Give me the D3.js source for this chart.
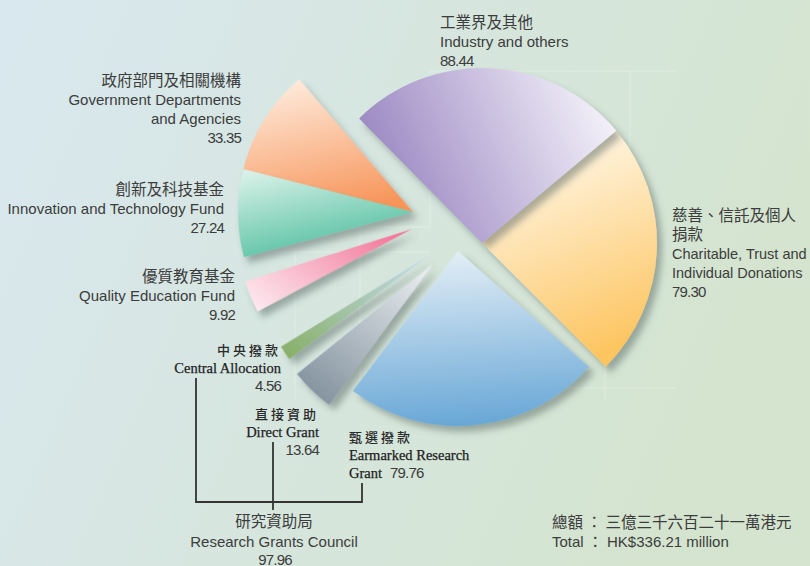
<!DOCTYPE html>
<html><head><meta charset="utf-8">
<script src="https://cdn.jsdelivr.net/npm/d3@7"></script>
<style>body{margin:0;background:#d8e6e4}svg{display:block}</style>
</head><body>
<svg id="chart" width="810" height="566"></svg>
<script>
// ---------- data ----------
const categoriesZh = [["工業界及其他"], ["慈善、信託及個人", "捐款"], ["甄選撥款"], ["直接資助"], ["中央撥款"], ["優質教育基金"], ["創新及科技基金"], ["政府部門及相關機構"]];
const categoriesEn = [["Industry and others"], ["Charitable, Trust and", "Individual Donations"], ["Earmarked Research", "Grant"], ["Direct Grant"], ["Central Allocation"], ["Quality Education Fund"], ["Innovation and Technology Fund"], ["Government Departments", "and Agencies"]];
const values = [88.44, 79.30, 79.76, 13.64, 4.56, 9.92, 27.24, 33.35];
const valueLabels = ["88.44", "79.30", "79.76", "13.64", "4.56", "9.92", "27.24", "33.35"];
const groupZh = "研究資助局", groupEn = "Research Grants Council", groupValue = "97.96";
const totalZh = "總額 ： 三億三千六百二十一萬港元";
const totalEn = "Total ： HK$336.21 million";

// ---------- layout / style ----------
const W = 810, H = 566;
const center = [482, 243], R = 175;
const sliceShift = [[0,0],[0,0],[-24,8],[-49,21],[-52,12],[-70,-14],[-69,-31],[-69,-31]];
const sliceRotate = [0,0,-3.5,-4,-1.5,2,4.5,4];
const grads = [
  {x1:0,y1:0.55,x2:1,y2:0.25, c:["#9682bf","#f6f4fb"]},
  {x1:0.2,y1:0,x2:0.5,y2:1, c:["#fffcf4","#fdc561"]},
  {x1:0.5,y1:0,x2:0.5,y2:1, c:["#e3eef6","#68a7d6"]},
  {x1:1,y1:0,x2:0,y2:1, c:["#eef1f4","#7a8a97"]},
  {x1:1,y1:0,x2:0,y2:1, c:["#c4dcf0","#86ae64"]},
  {x1:1,y1:0.2,x2:0,y2:0.9, c:["#f2779a","#fdeaf0"]},
  {x1:0.1,y1:0,x2:0.7,y2:1, c:["#d8f1e8","#3cb793"]},
  {x1:0.3,y1:0,x2:0.7,y2:1, c:["#feeadb","#f7955a"]}
];
const sans = "'Liberation Sans', Arial, 'Noto Sans CJK TC', sans-serif";
const serif = "'Liberation Serif', 'Times New Roman', 'Noto Sans CJK TC', serif";
const cjk = "'Noto Sans CJK TC', 'Noto Sans CJK SC', sans-serif";
const textColor = "#3c3c3c";

const svg = d3.select("#chart");
const defs = svg.append("defs");

// background
const bg = defs.append("linearGradient").attr("id","bg").attr("x1",0).attr("y1",0).attr("x2",1).attr("y2",0.3);
bg.append("stop").attr("offset",0).attr("stop-color","#d9e8ef");
bg.append("stop").attr("offset",1).attr("stop-color","#d4e4cf");
svg.append("rect").attr("width",W).attr("height",H).attr("fill","url(#bg)");

// faint decorative lines
const deco = [[430,71,677,71],[430,71,430,227],[630,71,630,250],[240,227,430,227],[283,252,430,252],[295,252,295,400],[360,227,360,400],[605,252,605,400],[560,388,677,388],[240,350,283,350]];
svg.append("g").selectAll("line").data(deco).join("line")
  .attr("x1",d=>d[0]).attr("y1",d=>d[1]).attr("x2",d=>d[2]).attr("y2",d=>d[3])
  .attr("stroke","#ffffff").attr("stroke-opacity",0.3).attr("stroke-width",1);

// shadow
const f = defs.append("filter").attr("id","sh").attr("x","-30%").attr("y","-30%").attr("width","160%").attr("height","160%");
f.append("feDropShadow").attr("dx",5).attr("dy",6).attr("stdDeviation",3.5)
  .attr("flood-color","#4a5a58").attr("flood-opacity",0.45);

grads.forEach((g,i)=>{
  const lg = defs.append("linearGradient").attr("id","g"+i)
    .attr("x1",g.x1).attr("y1",g.y1).attr("x2",g.x2).attr("y2",g.y2);
  lg.append("stop").attr("offset",0).attr("stop-color",g.c[0]);
  lg.append("stop").attr("offset",1).attr("stop-color",g.c[1]);
});

const start = -44.6*Math.PI/180;
const pie = d3.pie().sort(null).startAngle(start).endAngle(start+2*Math.PI);
const arc = d3.arc().innerRadius(0).outerRadius(R);
const arcs = pie(values);

const order = [7,6,5,4,3,2,1,0];
svg.append("g").selectAll("path").data(order.map(i=>({a:arcs[i],i})))
  .join("path")
  .attr("transform",d=>`translate(${center[0]+sliceShift[d.i][0]},${center[1]+sliceShift[d.i][1]}) rotate(${sliceRotate[d.i]})`)
  .attr("d",d=>arc(d.a))
  .attr("fill",d=>`url(#g${d.i})`)
  .attr("filter","url(#sh)");

// ---------- labels ----------
const labelPos = [
  {x:440,y:28,anchor:"start",style:"sans",fs:15},
  {x:672,y:221,anchor:"start",style:"sans",fs:14.5},
  {x:349,y:442,anchor:"start",style:"serif",fs:14.5},
  {x:319,y:419,anchor:"end",style:"serif",fs:14.5},
  {x:281,y:355,anchor:"end",style:"serif",fs:14.5},
  {x:235,y:282,anchor:"end",style:"sans",fs:15},
  {x:224,y:195,anchor:"end",style:"sans",fs:15},
  {x:241,y:86,anchor:"end",style:"sans",fs:15}
];
const LH = 19;
const lg = svg.append("g").attr("fill",textColor);
labelPos.forEach((p,i)=>{
  let y = p.y;
  const isSerif = p.style==="serif";
  categoriesZh[i].forEach(s=>{
    lg.append("text").attr("x",p.x).attr("y",y).attr("text-anchor",p.anchor)
      .attr("font-family",cjk).attr("font-size", isSerif?13:15.5)
      .attr("letter-spacing", isSerif?3:0)
      .attr("font-weight", isSerif?500:400)
      .attr("fill", isSerif?"#2a2a2a":textColor)
      .text(s);
    y += isSerif?17.5:LH;
  });
  categoriesEn[i].forEach((s,k)=>{
    lg.append("text").attr("x",p.x).attr("y",y).attr("text-anchor",p.anchor)
      .attr("font-family",isSerif?serif:sans).attr("font-size",p.fs)
      .attr("fill", isSerif?"#1e1e1e":textColor)
      .attr("stroke", isSerif?"#1e1e1e":"none").attr("stroke-width", isSerif?0.25:0)
      .text(s);
    if (i===2 && k===categoriesEn[i].length-1) return;
    y += isSerif?18.5:LH;
  });
  const num = lg.append("text").attr("font-family",sans).attr("font-size",15).attr("letter-spacing",-0.8).text(valueLabels[i]);
  if (i===2) num.attr("x",390).attr("y",y).attr("text-anchor","start");
  else num.attr("x",p.x).attr("y",y).attr("text-anchor",p.anchor);
});

// RGC bracket
const br = svg.append("g").attr("stroke","#333").attr("stroke-width",1.8).attr("fill","none");
br.append("path").attr("d","M196,378V502H362V483");
br.append("path").attr("d","M273,442V510");
lg.append("text").attr("x",274).attr("y",527).attr("text-anchor","middle").attr("font-family",cjk).attr("font-size",15.5).text(groupZh);
lg.append("text").attr("x",274).attr("y",547).attr("text-anchor","middle").attr("font-family",sans).attr("font-size",15).text(groupEn);
lg.append("text").attr("x",275).attr("y",565).attr("text-anchor","middle").attr("font-family",sans).attr("font-size",15).attr("letter-spacing",-0.8).text(groupValue);

// total
lg.append("text").attr("x",552).attr("y",528).attr("font-family",cjk).attr("font-size",15.5).text(totalZh);
lg.append("text").attr("x",552).attr("y",547).attr("font-family",sans).attr("font-size",15).text(totalEn);
</script>
</body></html>
